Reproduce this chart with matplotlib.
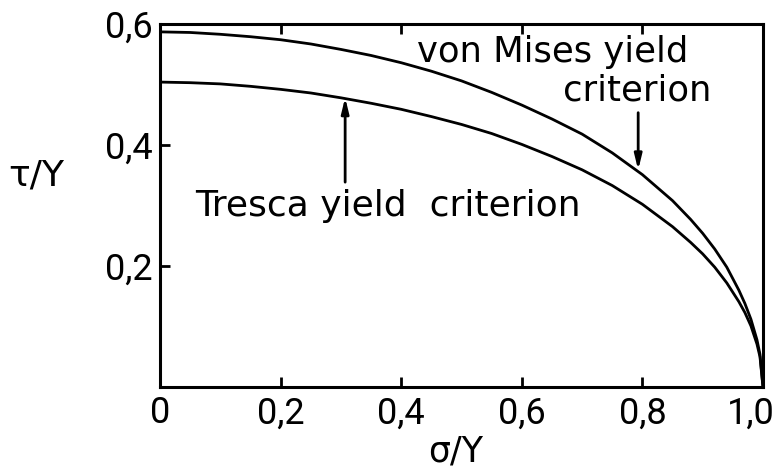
import matplotlib
matplotlib.use("Agg")
import matplotlib.pyplot as plt
from matplotlib.transforms import ScaledTranslation

# values (sigma/Y -> tau/Y)
sigma = [0.0, 0.05, 0.1, 0.15, 0.2, 0.25, 0.3, 0.35, 0.4, 0.45, 0.5, 0.55,
         0.6, 0.65, 0.7, 0.75, 0.8, 0.85, 0.88, 0.9, 0.92, 0.94, 0.96,
         0.97, 0.98, 0.99, 0.995, 1.0]
tau_mises = [0.587, 0.586, 0.583, 0.579, 0.574, 0.567, 0.558, 0.548, 0.536,
             0.522, 0.506, 0.487, 0.466, 0.443, 0.418, 0.387, 0.351, 0.308,
             0.277, 0.254, 0.228, 0.198, 0.160, 0.138, 0.112, 0.078, 0.054, 0.0]
tau_tresca = [0.504, 0.503, 0.501, 0.497, 0.492, 0.486, 0.478, 0.469, 0.459,
              0.447, 0.434, 0.419, 0.401, 0.381, 0.359, 0.333, 0.302, 0.265,
              0.239, 0.220, 0.198, 0.172, 0.141, 0.123, 0.101, 0.071, 0.050, 0.0]

xticks = [0.0, 0.2, 0.4, 0.6, 0.8, 1.0]
xtick_labels = ["0", "0,2", "0,4", "0,6", "0,8", "1,0"]
yticks = [0.2, 0.4, 0.6]
ytick_labels = ["0,2", "0,4", "0,6"]

fig = plt.figure(figsize=(7.75, 4.67), dpi=100)
ax = fig.add_axes([0.2065, 0.1713, 0.778, 0.7773])

ax.plot(sigma, tau_mises, color="black", lw=2.0, solid_capstyle="round")
ax.plot(sigma, tau_tresca, color="black", lw=2.0, solid_capstyle="round")

ax.set_xlim(0, 1.0)
ax.set_ylim(0, 0.6)

for sp in ax.spines.values():
    sp.set_linewidth(2.2)
    sp.set_color("black")

ax.set_xticks(xticks)
ax.set_xticklabels(xtick_labels, fontfamily="Roboto", fontsize=26)
ax.set_yticks(yticks)
ax.set_yticklabels(ytick_labels, fontfamily="Roboto", fontsize=26)
ax.tick_params(axis="x", direction="in", length=7, width=2, pad=6, top=True)
ax.tick_params(axis="y", direction="in", length=7, width=2, pad=5)

# the last x label sits a bit left of the right spine, as in the scan
last = ax.get_xticklabels()[-1]
last.set_transform(last.get_transform() + ScaledTranslation(-12 / 100, 0, fig.dpi_scale_trans))

# labels on the curves
ax.text(0.426, 0.537, "von Mises yield", fontsize=25.5, ha="left", va="baseline")
ax.text(0.915, 0.473, "criterion", fontsize=25.5, ha="right", va="baseline")
ax.text(0.058, 0.282, "Tresca yield  criterion", fontsize=26, ha="left", va="baseline")

arrow = dict(arrowstyle="-|>,head_length=0.9,head_width=0.22", color="black", lw=2)
ax.annotate("", xy=(0.307, 0.483), xytext=(0.307, 0.334), arrowprops=arrow)
ax.annotate("", xy=(0.793, 0.354), xytext=(0.793, 0.458), arrowprops=arrow)

# axis titles
fig.text(0.01, 0.625, "τ/Y", fontsize=26, ha="left", va="center")
fig.text(0.588, 0.012, "σ/Y", fontsize=25, ha="center", va="baseline")

fig.savefig("out.png", dpi=100)
